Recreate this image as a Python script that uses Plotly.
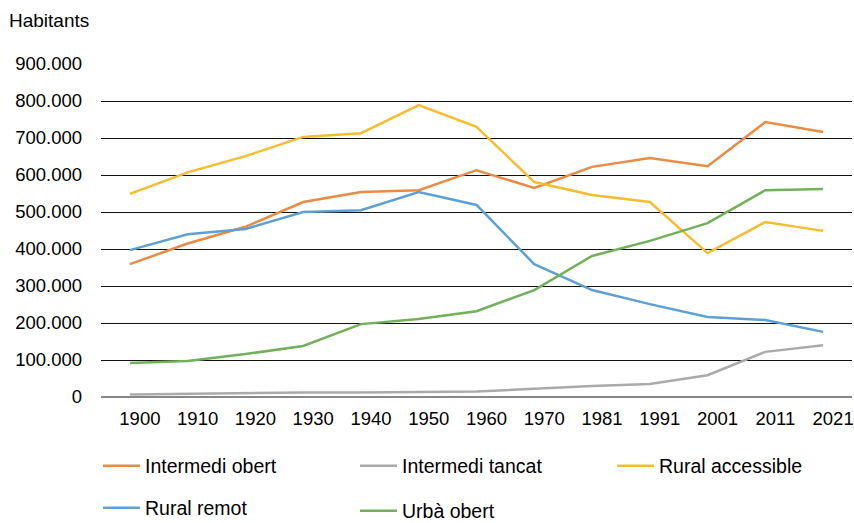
import plotly.graph_objects as go

years = ["1900", "1910", "1920", "1930", "1940", "1950", "1960", "1970", "1981", "1991", "2001", "2011", "2021"]

intermedi_obert = [359000, 415000, 460000, 527000, 554000, 559000, 613000, 565000, 622000, 646000, 624000, 743000, 716000]
intermedi_tancat = [7000, 9000, 10000, 12000, 12000, 13000, 15000, 22000, 30000, 35000, 59000, 122000, 140000]
rural_accessible = [549000, 607000, 651000, 703000, 713000, 789000, 730000, 581000, 546000, 527000, 389000, 473000, 449000]
rural_remot = [397000, 440000, 454000, 500000, 505000, 554000, 519000, 359000, 289000, 251000, 216000, 208000, 176000]
urba_obert = [92000, 97000, 116000, 138000, 197000, 211000, 232000, 289000, 381000, 422000, 470000, 559000, 562000]

series = [
    ("Intermedi obert", intermedi_obert, "#EB8A45", "legend"),
    ("Intermedi tancat", intermedi_tancat, "#AAAAAA", "legend"),
    ("Rural accessible", rural_accessible, "#F5BD2F", "legend"),
    ("Rural remot", rural_remot, "#5E9FD6", "legend2"),
    ("Urbà obert", urba_obert, "#72B05A", "legend3"),
]

FONT = "Liberation Sans, Arial, Helvetica, sans-serif"

fig = go.Figure()
for name, vals, color, lg in series:
    fig.add_trace(go.Scatter(
        x=years, y=vals, name=name, mode="lines",
        line=dict(color=color, width=2.5),
        legend=lg,
    ))

W, H = 854, 523
L, R, T, B = 101, 2, 64, 126
pw = W - L - R
ph = H - T - B

def lx(px):
    return (px - L) / pw

def ly(py):
    return (H - B - py) / ph

legend_common = dict(
    orientation="h", font=dict(family=FONT, size=19.5, color="#000000"),
    bgcolor="rgba(0,0,0,0)", entrywidth=205, entrywidthmode="pixels",
    xanchor="left", yanchor="middle", itemwidth=37, borderwidth=0,
)

fig.update_layout(
    width=W, height=H,
    margin=dict(l=L, r=R, t=T, b=B, pad=0, autoexpand=False),
    paper_bgcolor="white", plot_bgcolor="white",
    font=dict(family=FONT, size=18.5, color="#000000"),
    separators=",.",
    showlegend=True,
    legend=dict(**legend_common, x=lx(98), y=ly(466)),
    legend2=dict(**legend_common, x=lx(98), y=ly(508)),
    legend3=dict(**legend_common, x=lx(355), y=ly(511)),
    xaxis=dict(
        type="category", range=[-0.5, 12.5], showgrid=False,
        showline=False, ticks="", ticklabelstandoff=8, ticklabelshift=10,
        tickfont=dict(family=FONT, size=18.5, color="#000000"),
    ),
    yaxis=dict(
        range=[0, 900000], tickvals=[0, 100000, 200000, 300000, 400000, 500000, 600000, 700000, 800000, 900000],
        tickformat=",d", showgrid=True, gridcolor="#111111", gridwidth=1.2,
        zeroline=True, zerolinecolor="#888888", zerolinewidth=2,
        showline=False, ticks="", ticklabelstandoff=18,
        tickfont=dict(family=FONT, size=18.5, color="#000000"),
    ),
    annotations=[dict(
        text="Habitants", xref="paper", yref="paper",
        x=lx(7), y=ly(20), xanchor="left", yanchor="middle",
        showarrow=False, font=dict(family=FONT, size=19, color="#000000"),
    )],
)

fig.write_html(
    "out.html",
    config={"displayModeBar": False},
    post_script="document.body.style.margin='0';document.body.style.overflow='hidden';",
)
